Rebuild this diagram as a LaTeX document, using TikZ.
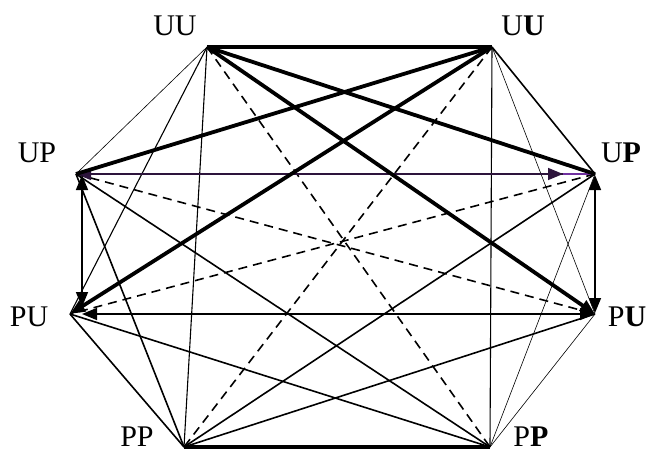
\documentclass[tikz,border=0pt]{standalone}
\usepackage{fontspec}
\setmainfont{Liberation Serif}
\usetikzlibrary{arrows.meta,calc,decorations.markings}
\definecolor{darkviolet}{RGB}{45,20,60}
\definecolor{violetend}{RGB}{112,48,160}
\tikzset{
  lbl/.style={anchor=base,inner sep=0pt,font=\fontsize{30}{36}\selectfont},
  heavy/.style={line width=3.8pt},
  plain/.style={line width=1.6pt},
  light/.style={line width=1.1pt},
  hair/.style={line width=0.6pt},
  dashline/.style={line width=1.6pt,dash pattern=on 9pt off 6pt},
  tip/.tip={Triangle[length=15pt,width=12pt]},
}
\begin{document}
\begin{tikzpicture}[x=1pt,y=-1pt,line cap=butt]
\useasboundingbox (0,0) rectangle (651,453);

% vertices
\coordinate (uu1) at (207,47);
\coordinate (uu2) at (492,47);
\coordinate (up1) at (76,174);
\coordinate (up2) at (595,174);
\coordinate (pu1) at (70,314);
\coordinate (pu2) at (595,314);
\coordinate (pp1) at (184,447);
\coordinate (pp2) at (490,447);

% labels
\node[lbl] (luu1) at (175,35) {UU};
\node[lbl] (luu2) at (523,35) {U\textbf{U}};
\node[lbl] (lup1) at (37,162) {UP};
\node[lbl] (lup2) at (621,162) {U\textbf{P}};
\node[lbl] (lpu1) at (29,326) {PU};
\node[lbl] (lpu2) at (627,326) {P\textbf{U}};
\node[lbl] (lpp1) at (137,446) {PP};
\node[lbl] (lpp2) at (531,446) {P\textbf{P}};

% hairlines
\draw[hair] (uu1) -- (up1);
\draw[hair] (uu2) -- (pu2);
\draw[hair] (up2) -- (pp2);
\draw[hair] (pu2) -- (pp2);

% light solid lines
\draw[light] (uu1) -- (pp1);
\draw[light] (uu2) -- (pp2);
\draw[light] (uu1) -- (pu1);
\draw[plain] (uu2) -- (up2);

% plain solid lines
\draw[plain] (up1) -- (pp1);
\draw[plain] (up1) -- (pp2);
\draw[plain] (up2) -- (pp1);
\draw[plain] (pu1) -- (pp1);
\draw[plain] (pu1) -- (pp2);
\draw[plain] (pu2) -- (pp1);

% dashed diagonals
\draw[dashline] (uu1) -- (pp2);
\draw[dashline] (uu2) -- (pp1);
\draw[dashline] (up1) -- (pu2);
\draw[dashline] (up2) -- (pu1);

% horizontal middle connectors
\draw[plain,darkviolet,tip-,
  postaction={decorate,decoration={markings,mark=at position -32pt with {\arrow{tip}}}}]
  (up1) -- (up2);
\draw[line width=1.8pt,violetend] ($(up2)+(-32,0)$) -- (up2);
\draw[plain,tip-tip] ($(pu1)+(12,0)$) -- (pu2);

% vertical side connectors
\draw[plain,tip-tip] ($(up1)+(6,1)$) -- ($(pu1)+(12,-7)$);
\draw[plain,tip-tip] ($(up2)+(0,1)$) -- ($(pu2)+(0,-1)$);

% heavy lines
\draw[heavy] (uu1) -- (uu2);
\draw[heavy] (pp1) -- (pp2);
\draw[heavy] (uu1) -- (up2);
\draw[heavy,-tip] (uu1) -- (pu2);
\draw[heavy] (uu2) -- (up1);
\draw[heavy,-tip] (uu2) -- (pu1);
\end{tikzpicture}
\end{document}
